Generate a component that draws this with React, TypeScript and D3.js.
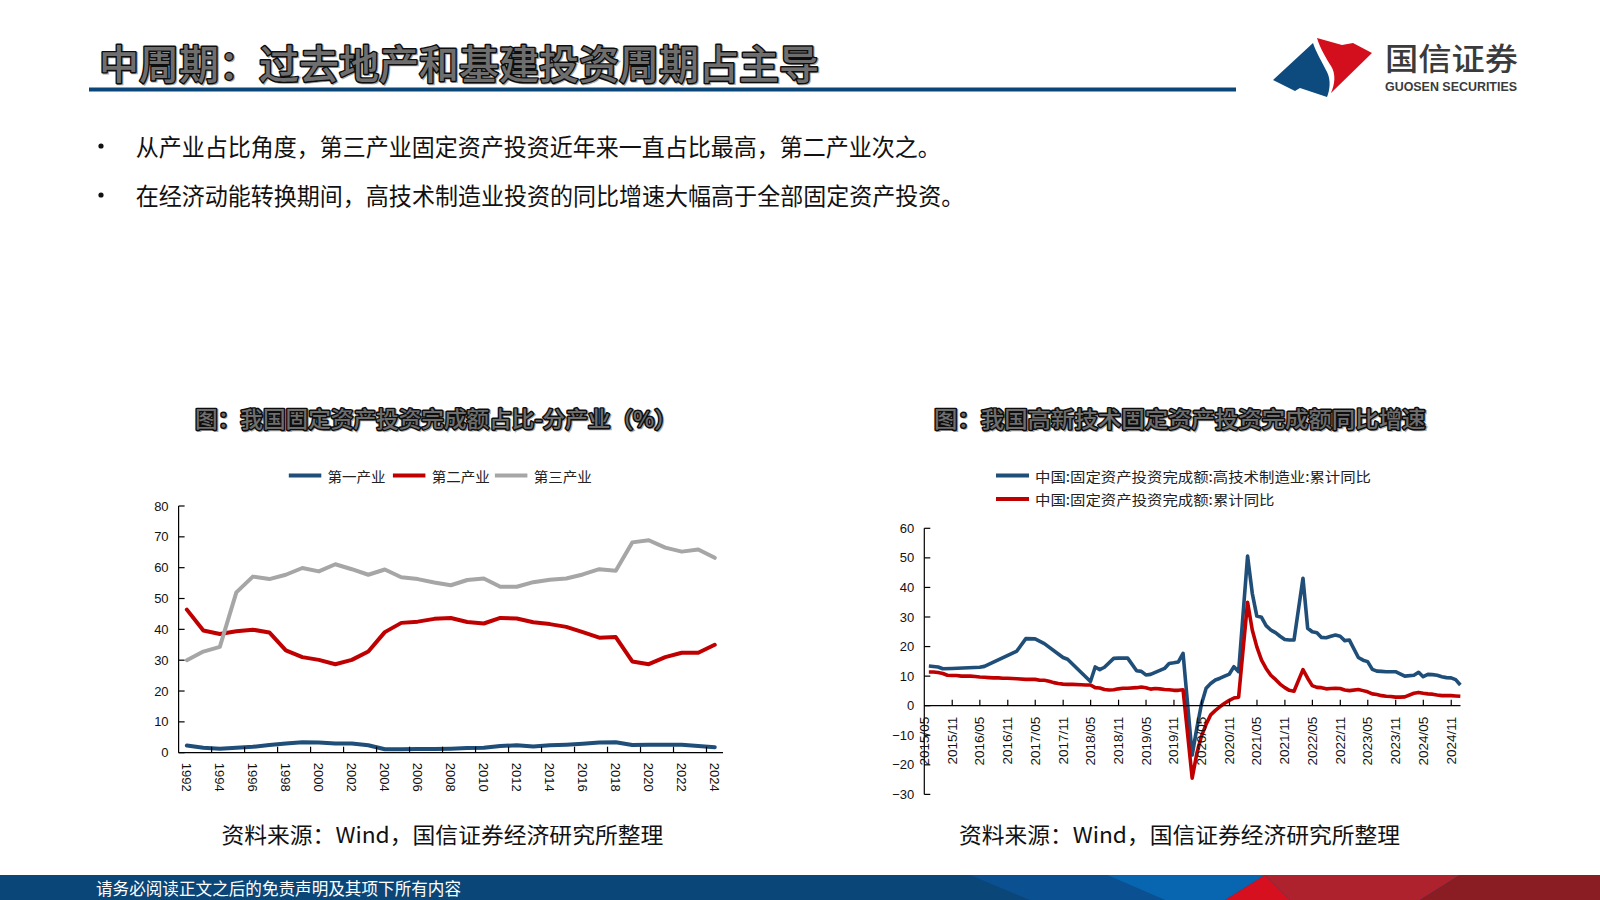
import * as d3 from 'd3'

const W = 1600
const H = 900
const CJK = '"Noto Sans CJK SC", "Noto Sans", sans-serif'
const NUM = '"Liberation Sans", Arial, sans-serif'

// ---- left chart: share of FAI by industry (%) ----
const YEARS = [
  1992, 1993, 1994, 1995, 1996, 1997, 1998, 1999, 2000, 2001, 2002, 2003, 2004, 2005, 2006, 2007, 2008,
  2009, 2010, 2011, 2012, 2013, 2014, 2015, 2016, 2017, 2018, 2019, 2020, 2021, 2022, 2023, 2024,
]
const PRIMARY = [
  2.3, 1.6, 1.3, 1.6, 1.9, 2.5, 3.0, 3.4, 3.3, 3.0, 3.0, 2.4, 1.1, 1.1, 1.2, 1.2, 1.3,
  1.5, 1.6, 2.2, 2.4, 2.0, 2.4, 2.6, 2.9, 3.3, 3.4, 2.5, 2.6, 2.6, 2.6, 2.2, 1.8,
]
const SECONDARY = [
  46.4, 39.6, 38.5, 39.4, 39.9, 39.0, 33.2, 31.0, 30.1, 28.7, 30.1, 32.8, 39.1, 42.1, 42.5, 43.4, 43.7,
  42.4, 41.9, 43.7, 43.5, 42.3, 41.7, 40.8, 39.1, 37.3, 37.5, 29.6, 28.7, 31.0, 32.4, 32.4, 35.0,
]
const TERTIARY = [
  30.0, 32.8, 34.3, 52.0, 57.1, 56.3, 57.7, 59.9, 58.8, 61.1, 59.5, 57.7, 59.4, 56.9, 56.3, 55.2, 54.3,
  56.0, 56.5, 53.8, 53.8, 55.3, 56.1, 56.5, 57.8, 59.5, 59.0, 68.2, 68.9, 66.5, 65.2, 65.9, 63.2,
]
const SHARE_TICKS = [0, 10, 20, 30, 40, 50, 60, 70, 80]

// ---- right chart: cumulative YoY (%) ----
const TECH_MONTHS = [
  '2015-05', '2015-07', '2015-08', '2015-10', '2016-04', '2016-05', '2016-12', '2017-02', '2017-04',
  '2017-06', '2017-10', '2017-11', '2018-04', '2018-05', '2018-06', '2018-07', '2018-09', '2018-10',
  '2018-12', '2019-02', '2019-03', '2019-04', '2019-05', '2019-08', '2019-09', '2019-10', '2019-11',
  '2019-12', '2020-02', '2020-03', '2020-04', '2020-05', '2020-06', '2020-07', '2020-08', '2020-09',
  '2020-10', '2020-11', '2020-12', '2021-02', '2021-03', '2021-04', '2021-05', '2021-06', '2021-07',
  '2021-08', '2021-09', '2021-10', '2021-11', '2021-12', '2022-02', '2022-03', '2022-04', '2022-05',
  '2022-06', '2022-07', '2022-08', '2022-09', '2022-10', '2022-11', '2022-12', '2023-02', '2023-03',
  '2023-04', '2023-05', '2023-06', '2023-07', '2023-08', '2023-09', '2023-10', '2023-11', '2023-12',
  '2024-02', '2024-03', '2024-04', '2024-05', '2024-06', '2024-07', '2024-08', '2024-09', '2024-10',
  '2024-11', '2024-12',
]
const TECH_YOY = [
  13.4, 13.1, 12.5, 12.6, 13.0, 13.3, 18.5, 22.7, 22.6,
  21.0, 16.3, 15.7, 8.2, 13.1, 12.2, 13.0, 16.0, 16.1,
  16.1, 11.8, 11.6, 10.4, 10.6, 12.6, 14.3, 14.5, 14.8,
  17.7, -16.7, -7.5, 0.5, 5.9, 7.5, 8.7, 9.3, 10.0,
  10.7, 13.2, 11.5, 50.6, 38.0, 30.3, 29.9, 27.1, 25.6,
  24.7, 23.5, 22.4, 22.2, 22.2, 43.1, 26.2, 25.0, 24.7,
  23.1, 23.0, 23.5, 23.9, 23.5, 22.0, 22.2, 16.3, 15.4,
  14.9, 12.3, 11.7, 11.6, 11.5, 11.5, 11.5, 10.8, 10.0,
  10.3, 11.3, 9.8, 10.6, 10.5, 10.3, 9.8, 9.5, 9.4,
  8.8, 7.0,
]
const FAI_MONTHS = [
  '2015-05', '2015-06', '2015-07', '2015-08', '2015-09', '2015-10', '2015-11', '2015-12',
  '2016-02', '2016-03', '2016-04', '2016-05', '2016-06', '2016-07', '2016-08', '2016-09', '2016-10', '2016-11', '2016-12',
  '2017-02', '2017-03', '2017-04', '2017-05', '2017-06', '2017-07', '2017-08', '2017-09', '2017-10', '2017-11', '2017-12',
  '2018-02', '2018-03', '2018-04', '2018-05', '2018-06', '2018-07', '2018-08', '2018-09', '2018-10', '2018-11', '2018-12',
  '2019-02', '2019-03', '2019-04', '2019-05', '2019-06', '2019-07', '2019-08', '2019-09', '2019-10', '2019-11', '2019-12',
  '2020-02', '2020-03', '2020-04', '2020-05', '2020-06', '2020-07', '2020-08', '2020-09', '2020-10', '2020-11', '2020-12',
  '2021-02', '2021-03', '2021-04', '2021-05', '2021-06', '2021-07', '2021-08', '2021-09', '2021-10', '2021-11', '2021-12',
  '2022-02', '2022-03', '2022-04', '2022-05', '2022-06', '2022-07', '2022-08', '2022-09', '2022-10', '2022-11', '2022-12',
  '2023-02', '2023-03', '2023-04', '2023-05', '2023-06', '2023-07', '2023-08', '2023-09', '2023-10', '2023-11', '2023-12',
  '2024-02', '2024-03', '2024-04', '2024-05', '2024-06', '2024-07', '2024-08', '2024-09', '2024-10', '2024-11', '2024-12',
]
const FAI_YOY = [
  11.4, 11.4, 11.2, 10.9, 10.3, 10.2, 10.2, 10.0,
  10.0, 9.9, 9.7, 9.6, 9.5, 9.4, 9.4, 9.3, 9.3, 9.2, 9.1,
  8.9, 8.9, 8.9, 8.6, 8.6, 8.3, 7.8, 7.5, 7.3, 7.2, 7.2,
  7.1, 7.0, 7.0, 6.1, 6.0, 5.5, 5.3, 5.4, 5.7, 5.9, 5.9,
  6.1, 6.3, 6.1, 5.6, 5.8, 5.7, 5.5, 5.4, 5.2, 5.2, 5.4,
  -24.5, -16.1, -10.3, -6.3, -3.1, -1.6, -0.3, 0.8, 1.8, 2.6, 2.9,
  35.0, 25.6, 19.9, 15.4, 12.6, 10.3, 8.9, 7.3, 6.1, 5.2, 4.9,
  12.2, 9.3, 6.8, 6.2, 6.1, 5.7, 5.8, 5.9, 5.8, 5.3, 5.1,
  5.5, 5.1, 4.7, 4.0, 3.8, 3.4, 3.2, 3.1, 2.9, 2.9, 3.0,
  4.2, 4.5, 4.2, 4.0, 3.9, 3.6, 3.4, 3.4, 3.4, 3.3, 3.2,
]
const YOY_TICKS = [-30, -20, -10, 0, 10, 20, 30, 40, 50, 60]
const DATE_TICKS = [
  '2015/05', '2015/11', '2016/05', '2016/11', '2017/05', '2017/11', '2018/05', '2018/11', '2019/05', '2019/11',
  '2020/05', '2020/11', '2021/05', '2021/11', '2022/05', '2022/11', '2023/05', '2023/11', '2024/05', '2024/11',
]

const BLUE = '#1f4e79'
const RED = '#c00000'
const GRAY = '#a6a6a6'
const NAVY = '#0b4679'

const endOfMonth = (s: string) => {
  const [y, m] = s.split('-').map(Number)
  return new Date(y, m, 0)
}
const tickDate = (s: string) => {
  const [y, m] = s.split('/').map(Number)
  return new Date(y, m - 1, 1)
}
const fmtNum = (v: number) => (v < 0 ? '\u2212' + Math.abs(v) : String(v))

// outlined "word-art" style heading: dark outline, grey body, faint shadow
function HollowText({ x, y, size, text, width, weight = 500 }: {
  x: number; y: number; size: number; text: string; width: number; weight?: number
}) {
  const common = {
    x, y, fontSize: size, fontFamily: CJK, fontWeight: weight,
    textLength: width, lengthAdjust: 'spacingAndGlyphs' as const, dominantBaseline: 'central' as const,
  }
  return (
    <g>
      <text {...common} x={x + 1.2} y={y + 1.2} fill="#aaa" stroke="#aaa" strokeWidth={2.4}>{text}</text>
      <text {...common} fill="#0d0d0d" stroke="#0d0d0d" strokeWidth={2.8} strokeLinejoin="round">{text}</text>
      <text {...common} fill="#6e6e6e">{text}</text>
    </g>
  )
}

function ShareChart() {
  const left = 178.6
  const right = 723
  const top = 506
  const bottom = 752.7
  const x = d3.scaleBand<number>().domain(YEARS).range([left, right])
  const y = d3.scaleLinear().domain([0, 80]).range([bottom, top])
  const cx = (yr: number) => (x(yr) ?? 0) + x.bandwidth() / 2
  const line = d3.line<[number, number]>().x(d => cx(d[0])).y(d => y(d[1]))
  const series = [
    { name: '第一产业', values: PRIMARY, color: BLUE },
    { name: '第二产业', values: SECONDARY, color: RED },
    { name: '第三产业', values: TERTIARY, color: GRAY },
  ]
  const legendX = [288.8, 392.9, 494.9]
  const labelYears = YEARS.filter((_, i) => i % 2 === 0)
  const tickXs = YEARS.filter((_, i) => i % 2 === 0 && i > 0).map(yr => x(yr) as number)
  return (
    <g>
      {series.map((s, i) => (
        <g key={s.name}>
          <line x1={legendX[i]} x2={legendX[i] + 32.5} y1={475.5} y2={475.5} stroke={s.color} strokeWidth={4} />
          <text x={legendX[i] + 38.8} y={475.5} fontSize={14} fontFamily={CJK} fill="#222"
            dominantBaseline="central" textLength={58} lengthAdjust="spacingAndGlyphs">{s.name}</text>
        </g>
      ))}
      {series.map(s => (
        <path key={s.name} d={line(YEARS.map((yr, i) => [yr, s.values[i]] as [number, number])) ?? ''}
          fill="none" stroke={s.color} strokeWidth={4} strokeLinejoin="round" strokeLinecap="round" />
      ))}
      <line x1={left} x2={left} y1={top} y2={bottom} stroke="#000" strokeWidth={1.2} />
      <line x1={left} x2={right} y1={bottom} y2={bottom} stroke="#000" strokeWidth={1.2} />
      {SHARE_TICKS.map(t => (
        <g key={t}>
          <line x1={left} x2={left + 6} y1={y(t)} y2={y(t)} stroke="#000" strokeWidth={1.2} />
          <text x={left - 10} y={y(t)} textAnchor="end" dominantBaseline="central" fontSize={13}
            fontFamily={NUM} fill="#111">{t}</text>
        </g>
      ))}
      {tickXs.map(tx => (
        <line key={tx} x1={tx} x2={tx} y1={bottom} y2={bottom - 6} stroke="#000" strokeWidth={1.2} />
      ))}
      {labelYears.map(yr => (
        <text key={yr} transform={`translate(${cx(yr)},${bottom + 10}) rotate(90)`} dominantBaseline="central"
          fontSize={13} fontFamily={NUM} fill="#111">{yr}</text>
      ))}
    </g>
  )
}

function YoyChart() {
  const left = 924.3
  const right = 1460.5
  const x = d3.scaleTime().domain([new Date(2015, 4, 1), new Date(2025, 0, 1)]).range([left, right])
  const y = d3.scaleLinear().domain([-30, 60]).range([794.4, 528.3])
  const zero = y(0)
  const line = d3.line<[Date, number]>().x(d => x(d[0])).y(d => y(d[1]))
  const tech = TECH_MONTHS.map((m, i) => [endOfMonth(m), TECH_YOY[i]] as [Date, number])
  const fai = FAI_MONTHS.map((m, i) => [endOfMonth(m), FAI_YOY[i]] as [Date, number])
  return (
    <g>
      <line x1={996} x2={1029} y1={475.5} y2={475.5} stroke={BLUE} strokeWidth={4} />
      <text x={1035} y={475.5} fontSize={14} fontFamily={CJK} fill="#222" dominantBaseline="central"
        textLength={336} lengthAdjust="spacingAndGlyphs">中国:固定资产投资完成额:高技术制造业:累计同比</text>
      <line x1={996} x2={1029} y1={499} y2={499} stroke={RED} strokeWidth={4} />
      <text x={1035} y={499} fontSize={14} fontFamily={CJK} fill="#222" dominantBaseline="central"
        textLength={239.5} lengthAdjust="spacingAndGlyphs">中国:固定资产投资完成额:累计同比</text>
      <path d={line(tech) ?? ''} fill="none" stroke={BLUE} strokeWidth={3.6} strokeLinejoin="round" />
      <path d={line(fai) ?? ''} fill="none" stroke={RED} strokeWidth={3.6} strokeLinejoin="round" />
      <line x1={left} x2={left} y1={y(60)} y2={y(-30)} stroke="#000" strokeWidth={1.2} />
      <line x1={left} x2={right} y1={zero} y2={zero} stroke="#000" strokeWidth={1.2} />
      {YOY_TICKS.map(t => (
        <g key={t}>
          <line x1={left} x2={left + 6} y1={y(t)} y2={y(t)} stroke="#000" strokeWidth={1.2} />
          <text x={left - 10} y={y(t)} textAnchor="end" dominantBaseline="central" fontSize={13}
            fontFamily={NUM} fill="#111">{fmtNum(t)}</text>
        </g>
      ))}
      {DATE_TICKS.map((d, i) => {
        const tx = x(tickDate(d))
        return (
          <g key={d}>
            {i > 0 && <line x1={tx} x2={tx} y1={zero} y2={zero - 6} stroke="#000" strokeWidth={1.2} />}
            <text transform={`translate(${tx},${zero + 11}) rotate(-90)`} textAnchor="end"
              dominantBaseline="central" fontSize={13.5} fontFamily={NUM} fill="#111">{d}</text>
          </g>
        )
      })}
    </g>
  )
}

function Logo() {
  return (
    <g>
      <path d="M1273,80 L1313,43 C1316,52 1322,62 1327,72 C1331,80 1330,90 1327,97 L1300,88 L1295,91 Z" fill="#0d4a7e" />
      <path d="M1317,38 L1342,45 L1353,43 L1372,53 L1331,93 C1335,84 1336,74 1331,66 C1326,58 1320,48 1317,38 Z" fill="#d40f1d" />
      <text x={1385} y={69.5} fontSize={31} fontFamily={CJK} fontWeight={500} fill="#3b3b3b"
        textLength={133} lengthAdjust="spacingAndGlyphs">国信证券</text>
      <text x={1385} y={91} fontSize={12.5} fontFamily={NUM} fontWeight={700} fill="#3b3b3b"
        textLength={132} lengthAdjust="spacingAndGlyphs">GUOSEN SECURITIES</text>
    </g>
  )
}

function Footer() {
  return (
    <g>
      <rect x={0} y={875} width={W} height={25} fill={NAVY} />
      <polygon points="970,875 1107,875 1165,900 1030,900" fill="#0b5191" />
      <polygon points="1107,875 1265,875 1225,900 1165,900" fill="#0866b1" />
      <polygon points="1265,875 1460,875 1420,900 1290,900" fill="#ad222d" />
      <polygon points="1265,875 1290,900 1225,900" fill="#d6101e" />
      <polygon points="1460,875 1600,875 1600,900 1420,900" fill="#8a1c23" />
      <text x={96} y={887.5} fontSize={17} fontFamily={CJK} fill="#fff" dominantBaseline="central"
        textLength={365} lengthAdjust="spacingAndGlyphs">请务必阅读正文之后的免责声明及其项下所有内容</text>
    </g>
  )
}

export default function App() {
  return (
    <div style={{ position: 'fixed', left: 0, top: 0, width: W, height: H, background: '#fff' }}>
      <svg width={W} height={H} viewBox={`0 0 ${W} ${H}`} style={{ display: 'block' }}>
        <rect width={W} height={H} fill="#fff" />
        <HollowText x={99} y={62} size={40} width={720} text="中周期：过去地产和基建投资周期占主导" />
        <rect x={89} y={87.5} width={1147} height={4} fill={NAVY} />
        <Logo />
        <circle cx={101} cy={146} r={2.6} fill="#111" />
        <text x={135.7} y={146} fontSize={23.5} fill="#111" dominantBaseline="central" fontFamily={CJK}
          textLength={805} lengthAdjust="spacingAndGlyphs">从产业占比角度，第三产业固定资产投资近年来一直占比最高，第二产业次之。</text>
        <circle cx={101} cy={195} r={2.6} fill="#111" />
        <text x={135.7} y={195} fontSize={23.5} fill="#111" dominantBaseline="central" fontFamily={CJK}
          textLength={828.6} lengthAdjust="spacingAndGlyphs">在经济动能转换期间，高技术制造业投资的同比增速大幅高于全部固定资产投资。</text>
        <HollowText x={195} y={417} size={22} width={482} text="图：我国固定资产投资完成额占比-分产业（%）" />
        <HollowText x={934} y={417} size={22} width={491.5} text="图：我国高新技术固定资产投资完成额同比增速" />
        <ShareChart />
        <YoyChart />
        <text x={221.4} y={833} fontSize={22} fontFamily={CJK} fill="#111" dominantBaseline="central"
          textLength={442} lengthAdjust="spacingAndGlyphs">资料来源：Wind，国信证券经济研究所整理</text>
        <text x={959} y={833} fontSize={22} fontFamily={CJK} fill="#111" dominantBaseline="central"
          textLength={441} lengthAdjust="spacingAndGlyphs">资料来源：Wind，国信证券经济研究所整理</text>
        <Footer />
      </svg>
    </div>
  )
}
